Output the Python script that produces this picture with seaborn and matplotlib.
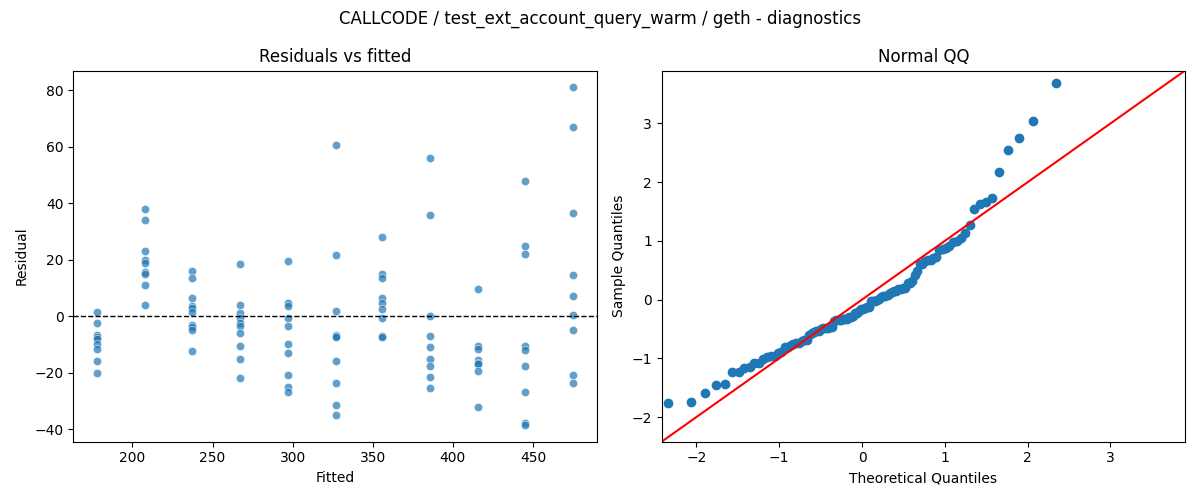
import numpy as np
import pandas as pd
import matplotlib
matplotlib.use("Agg")
import matplotlib.pyplot as plt
import seaborn as sns
from statistics import NormalDist

fitted_levels = [178, 208, 237, 267, 297, 327, 356, 386, 416, 445, 475]
res_178 = [1.5, -2.5, -6.5, -7.5, -8, -10, -11.5, -16, -20]
res_208 = [38, 34, 23, 20, 19, 15.5, 15, 11, 4]
res_237 = [16, 13.5, 6.5, 3.5, 3, 1.5, -3, -4, -5, -12.5]
res_267 = [18.5, 4, 1, -0.5, -2.5, -3.5, -6, -10.5, -15, -22]
res_297 = [19.5, 4.5, 3.5, -0.5, -3.5, -10, -13, -21, -25, -27]
res_327 = [60.5, 21.5, 2, -6.5, -7, -7.5, -16, -23.5, -31.5, -35]
res_356 = [28, 15, 13.5, 6.5, 4.5, 2.5, -0.5, -7, -7.5]
res_386 = [56, 36, 0, -7, -11, -15, -17.5, -21.5, -25.5]
res_416 = [9.5, -10.5, -11.5, -15.5, -16.5, -17, -19.5, -32]
res_445 = [48, 25, 22, -10.5, -12, -17.5, -27, -38, -38.5]
res_475 = [81, 67, 36.5, 14.5, 7, 0.5, -5, -21, -23.5]
groups = [res_178, res_208, res_237, res_267, res_297, res_327, res_356,
          res_386, res_416, res_445, res_475]

fitted = []
resid = []
for f, g in zip(fitted_levels, groups):
    fitted += [f] * len(g)
    resid += g
df = pd.DataFrame({"Fitted": fitted, "Residual": resid})

fig, axes = plt.subplots(1, 2, figsize=(12, 5), dpi=100)
ax = axes[0]
sns.scatterplot(data=df, x="Fitted", y="Residual", ax=ax, alpha=0.7, s=36,
                color="#1f77b4", edgecolor="white")
ax.axhline(0, color="black", ls="--", lw=1)
ax.set_title("Residuals vs fitted")

r = np.array(resid, dtype=float)
z = np.sort((r - r.mean()) / r.std(ddof=1))
n = len(z)
nd = NormalDist()
theo = np.array([nd.inv_cdf(i / (n + 1)) for i in range(1, n + 1)])
ax2 = axes[1]
ax2.plot(theo, z, "o", color="#1f77b4", ms=6)
ax2.set_xlim(-2.42, 3.9)
ax2.set_ylim(-2.42, 3.9)
ax2.plot([-2.42, 3.9], [-2.42, 3.9], color="red")
ax2.set_xlabel("Theoretical Quantiles")
ax2.set_ylabel("Sample Quantiles")
ax2.set_title("Normal QQ")

fig.suptitle("CALLCODE / test_ext_account_query_warm / geth - diagnostics")
fig.tight_layout()
fig.savefig("out.png")
